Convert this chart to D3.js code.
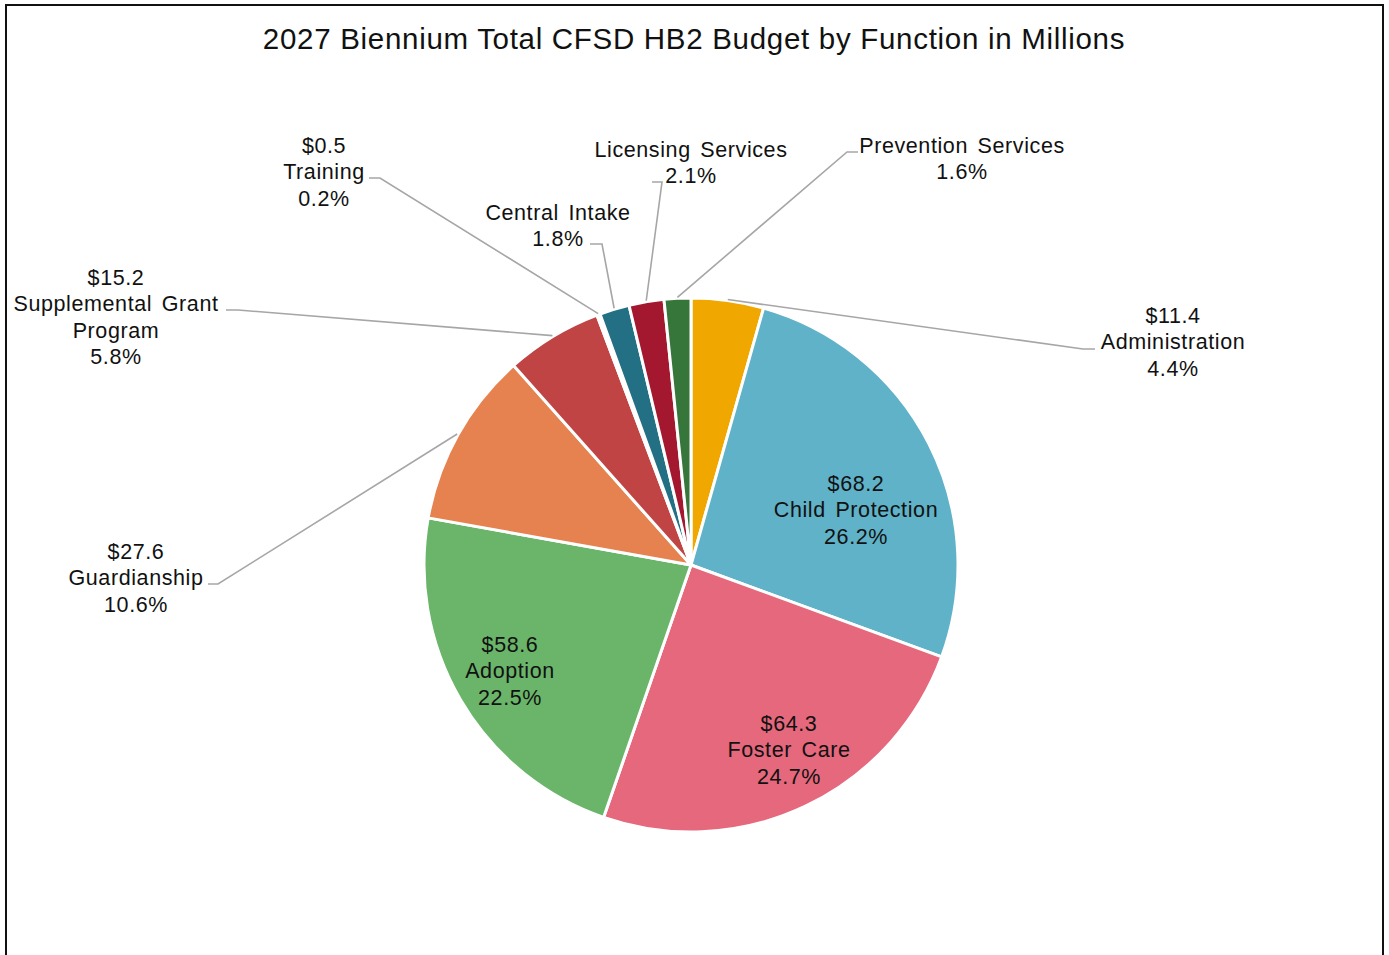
<!DOCTYPE html>
<html>
<head>
<meta charset="utf-8">
<script src="https://cdn.jsdelivr.net/npm/d3@7"></script>
<style>
  html, body { margin: 0; padding: 0; background: #fff; }
  svg text { font-family: "Liberation Sans", Arial, sans-serif; fill: #111; }
</style>
</head>
<body>
<svg id="chart" width="1389" height="955"></svg>
<script>
// Budget by function, millions of dollars (2027 biennium)
const categories = [
  "Administration", "Child Protection", "Foster Care", "Adoption", "Guardianship",
  "Supplemental Grant Program", "Training", "Central Intake", "Licensing Services", "Prevention Services"
];
const values = [11.4, 68.2, 64.3, 58.6, 27.6, 15.2, 0.5, 4.7, 5.5, 4.2];
const percents = ["4.4%", "26.2%", "24.7%", "22.5%", "10.6%", "5.8%", "0.2%", "1.8%", "2.1%", "1.6%"];
// which slices print their dollar amount
const showDollar = [true, true, true, true, true, true, true, false, false, false];
const colors = ["#F0A800", "#5FB2C8", "#E5687D", "#6AB56A", "#E5824F", "#C04444", "#FFFFFF", "#236F83", "#A4182F", "#36763A"];
const title = "2027 Biennium Total CFSD HB2 Budget by Function in Millions";

const svg = d3.select("#chart");
const cx = 691, cy = 565, R = 267;

// frame
svg.append("rect")
  .attr("x", 6).attr("y", 5).attr("width", 1377).attr("height", 1000)
  .attr("fill", "none").attr("stroke", "#111").attr("stroke-width", 2);

svg.append("text")
  .attr("x", 694).attr("y", 49)
  .attr("text-anchor", "middle")
  .style("font-size", "29.5px")
  .style("letter-spacing", "0.7px")
  .text(title);

const rows = categories.map((c, i) => ({ name: c, value: values[i], pct: percents[i], dollar: showDollar[i], color: colors[i] }));

const pie = d3.pie().sort(null).value(d => d.value).startAngle(0).endAngle(2 * Math.PI);
const arcs = pie(rows);
const arc = d3.arc().innerRadius(0).outerRadius(R);

const g = svg.append("g").attr("transform", `translate(${cx},${cy})`);
g.selectAll("path.slice")
  .data(arcs)
  .join("path")
  .attr("class", "slice")
  .attr("d", arc)
  .attr("fill", d => d.data.color)
  .attr("stroke", "#fff")
  .attr("stroke-width", 3)
  .attr("stroke-linejoin", "round");

// label placement: text block centre (x, first line y) and leader elbow
const labelLayout = {
  "Child Protection":           { x: 856, y: 483, inside: true },
  "Foster Care":                { x: 789, y: 723, inside: true },
  "Adoption":                   { x: 510, y: 644, inside: true },
  "Administration":             { x: 1173, y: 315, elbow: [1083, 349], tip: [1095, 349] },
  "Guardianship":               { x: 136, y: 551, elbow: [218, 584], tip: [208, 584] },
  "Supplemental Grant Program": { x: 116, y: 277, elbow: [238, 310], tip: [226, 310], lines: ["Supplemental Grant", "Program"] },
  "Training":                   { x: 324, y: 145, elbow: [380, 178], tip: [369, 178] },
  "Central Intake":             { x: 558, y: 212, elbow: [602, 244], tip: [590, 244] },
  "Licensing Services":         { x: 691, y: 149, elbow: [662, 182], tip: [652, 182] },
  "Prevention Services":        { x: 962, y: 145, elbow: [847, 152], tip: [858, 152] }
};

const lineH = 26.5;
const labels = svg.append("g");

arcs.forEach(a => {
  const d = a.data;
  const L = labelLayout[d.name];
  if (!L) return;
  const lines = [];
  if (d.dollar) lines.push("$" + d.value.toFixed(1));
  (L.lines || [d.name]).forEach(s => lines.push(s));
  lines.push(d.pct);

  const t = labels.append("text")
    .attr("text-anchor", "middle")
    .style("font-size", "21.5px")
    .style("letter-spacing", "0.6px")
    .style("word-spacing", "3px");
  lines.forEach((s, i) => {
    t.append("tspan").attr("x", L.x).attr("y", L.y + 7.5 + i * lineH).text(s);
  });

  if (!L.inside) {
    const mid = (a.startAngle + a.endAngle) / 2;
    const p0 = [cx + Math.sin(mid) * (R + 1), cy - Math.cos(mid) * (R + 1)];
    labels.append("polyline")
      .attr("points", [p0, L.elbow, L.tip].map(p => p.join(",")).join(" "))
      .attr("fill", "none")
      .attr("stroke", "#A6A6A6")
      .attr("stroke-width", 1.6);
  }
});
</script>
</body>
</html>
